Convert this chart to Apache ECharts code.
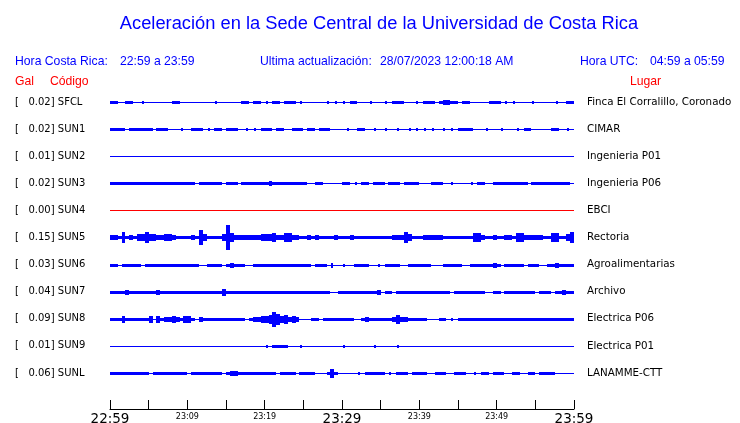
<!DOCTYPE html>
<html><head><meta charset="utf-8">
<script src="https://cdn.jsdelivr.net/npm/echarts@6/dist/echarts.min.js"></script>
<style>html,body{margin:0;padding:0;background:#fff}#c{width:740px;height:423px}</style>
</head><body><div id="c"></div>
<script>
// ---- data ----
const codes  = ['SFCL','SUN1','SUN2','SUN3','SUN4','SUN5','SUN6','SUN7','SUN8','SUN9','SUNL'];
const galMax = ['0.02','0.02','0.01','0.02','0.00','0.15','0.03','0.04','0.09','0.01','0.06'];
const places = ['Finca El Corralillo, Coronado','CIMAR','Ingenieria P01','Ingenieria P06','EBCI','Rectoria',
                'Agroalimentarias','Archivo','Electrica P06','Electrica P01','LANAMME-CTT'];
const tickLabels = ['22:59','23:09','23:19','23:29','23:39','23:49','23:59'];
const headerLocal = '22:59 a 23:59';
const headerUTC = '04:59 a 05:59';
const lastUpdate = '28/07/2023 12:00:18 AM';
// envelope amplitude per 30-second bin (base-36 digit per bin, 120 bins = 60 min)
const envSFCL = '110011001000000011000000000100000011011010110111010000001010101100010001011100010111012211011000001110101000010000010011';
const envSUN1 = '111101111110111000100111010110111001010111011001110110111000010011001001001001010101001010111100010001000101100000110010';
const envSUN2 = '000000000000000000000000000000000000000000000000000000000000000000000000000000000000000000000000000000000000000000000000';
const envSUN3 = '111111111111111111111101111110111011111112111111111001100000110101101110111011110001110010000101100111111111011111111110';
const envSUN4 = '000000000000000000000000000000000000000000000000000000000000000000000000000000000000000000000000000000000000000000000000';
const envSUN5 = '221512133533223321111217311113c42222222333422442211212111121112111111111122253111222221111111144211211221442222211441135';
const envSUN6 = '110111110111111111111110011110121110011111111111111101110200100111100101111001111110001111100111111210111110111001121111';
const envSUN7 = '111121111111211111111111111113111111111111111111111111111001111111111201101111111111111101111111100110111111110111011211';
const envSUN8 = '111311111130312232133102111111111110122334753423200011011111111001211111124221111100011010111111111111111111111111111111';
const envSUN9 = '000000000000000000000000000000000000000010111100010000000000100000001000001000000000000000000000000000000000000000000000';
const envSUNL = '111111111101111111110111111110122111111111101111011110001410000010111110101110111100111001110010110111001100110111100000';
const envelopes = [envSFCL, envSUN1, envSUN2, envSUN3, envSUN4, envSUN5, envSUN6, envSUN7, envSUN8, envSUN9, envSUNL];

// ---- build ----
const BIN_MIN = 0.5;          // minutes per bin
const AMP_UNIT = 1 / 27.1;    // one amplitude level in row units
const BLUE = '#0000ff', RED = '#ff0000';
const rowColor = c => (c === 'SUN4' ? RED : BLUE);

const envArr = envelopes.map(s => s.split('').map(ch => parseInt(ch, 36) || 0));
const envData = [];
envArr.forEach((arr, r) => arr.forEach((a, b) => { if (a > 0) envData.push([r, b, a]); }));
const baseData = codes.map((c, r) => [r, 0, 60]);

const chart = echarts.init(document.getElementById('c'), null, {renderer: 'canvas'});
const yLab = (v, list) => (Number.isInteger(v) && v >= 1 && v <= list.length ? list[v - 1] : '');
const leftLabels = codes.map((c, i) => '[   ' + galMax[i] + '] ' + c);
const hdr = (x, y, text, fill, size, align) => ({type: 'text', x, y, silent: true,
  style: {text, fill, font: size + 'px "Liberation Sans"', align: align || 'left', verticalAlign: 'middle'}});

chart.setOption({
  animation: false,
  backgroundColor: '#fff',
  grid: {left: 110, right: 166, top: 74.9, bottom: 14, containLabel: false, outerBoundsMode: 'none'},
  xAxis: {
    type: 'value', min: 0, max: 60, interval: 5, position: 'bottom',
    axisLine: {onZero: false, lineStyle: {color: '#000', width: 1}},
    axisTick: {inside: true, length: 9, lineStyle: {color: '#000', width: 1}},
    splitLine: {show: false},
    axisLabel: {
      margin: 2, showMinLabel: true, showMaxLabel: true, hideOverlap: false,
      formatter: v => {
        if (v % 10 !== 0) return '';
        const t = tickLabels[v / 10];
        return v % 30 === 0 ? '{big|' + t + '}' : '{small|' + t + '}';
      },
      rich: {
        big: {fontFamily: 'DejaVu Sans', fontSize: 13.5, color: '#000', padding: [1, 0, 0, 0]},
        small: {fontFamily: 'DejaVu Sans', fontSize: 8, color: '#000', padding: [2, 0, 0, 0]}
      }
    }
  },
  yAxis: [
    {type: 'value', min: 0, max: 12.33, interval: 1, inverse: true,
     axisLine: {show: false}, axisTick: {show: false}, splitLine: {show: false},
     axisLabel: {align: 'left', margin: 95, fontFamily: 'DejaVu Sans', fontSize: 10, color: '#000',
                 padding: [7, 0, 0, 0], formatter: v => yLab(v, leftLabels)}},
    {type: 'value', min: 0, max: 12.33, interval: 1, inverse: true, position: 'right',
     axisLine: {show: false}, axisTick: {show: false}, splitLine: {show: false},
     axisLabel: {align: 'left', margin: 13, fontFamily: 'DejaVu Sans', fontSize: 10.3, color: '#000',
                 padding: [7, 0, 0, 0], formatter: v => yLab(v, places)}}
  ],
  graphic: [
    hdr(379, 24, 'Aceleración en la Sede Central de la Universidad de Costa Rica', BLUE, 18.3, 'center'),
    hdr(15, 62, 'Hora Costa Rica:', BLUE, 12.2),
    hdr(120, 62, headerLocal, BLUE, 12.2),
    hdr(260, 62, 'Ultima actualización:', BLUE, 12.2),
    hdr(380, 62, lastUpdate, BLUE, 12.2),
    hdr(580, 62, 'Hora UTC:', BLUE, 12.2),
    hdr(650, 62, headerUTC, BLUE, 12.2),
    hdr(15, 82, 'Gal', RED, 12.2),
    hdr(50, 82, 'Código', RED, 12.2),
    hdr(630, 82, 'Lugar', RED, 12.2)
  ],
  series: [
    {
      type: 'custom', name: 'base', data: baseData, silent: true,
      renderItem: (params, api) => {
        const r = api.value(0);
        const p0 = api.coord([api.value(1), r + 1]);
        const p1 = api.coord([api.value(2), r + 1]);
        return {type: 'rect', shape: {x: Math.round(p0[0]), y: Math.round(p0[1]), width: Math.round(p1[0]) - Math.round(p0[0]), height: 1},
                style: {fill: rowColor(codes[r])}};
      }
    },
    {
      type: 'custom', name: 'envelope', data: envData, silent: true,
      renderItem: (params, api) => {
        const r = api.value(0), b = api.value(1), a = api.value(2);
        const p0 = api.coord([b * BIN_MIN, r + 1]);
        const p1 = api.coord([(b + 1) * BIN_MIN, r + 1]);
        const half = Math.round(api.size([0, a * AMP_UNIT])[1]);
        const cy = Math.round(p0[1]);
        let x0 = Math.round(p0[0]), x1 = Math.round(p1[0]);
        const arr = envArr[r];
        const isolated = !(arr[b - 1] > 0) && !(arr[b + 1] > 0);
        if (isolated) { const m = Math.round((p0[0] + p1[0]) / 2); x0 = m - 1; x1 = m + 1; }
        return {type: 'rect', shape: {x: x0, y: cy - half, width: Math.max(1, x1 - x0), height: 2 * half + 1},
                style: {fill: rowColor(codes[r])}};
      }
    }
  ]
});
</script></body></html>
